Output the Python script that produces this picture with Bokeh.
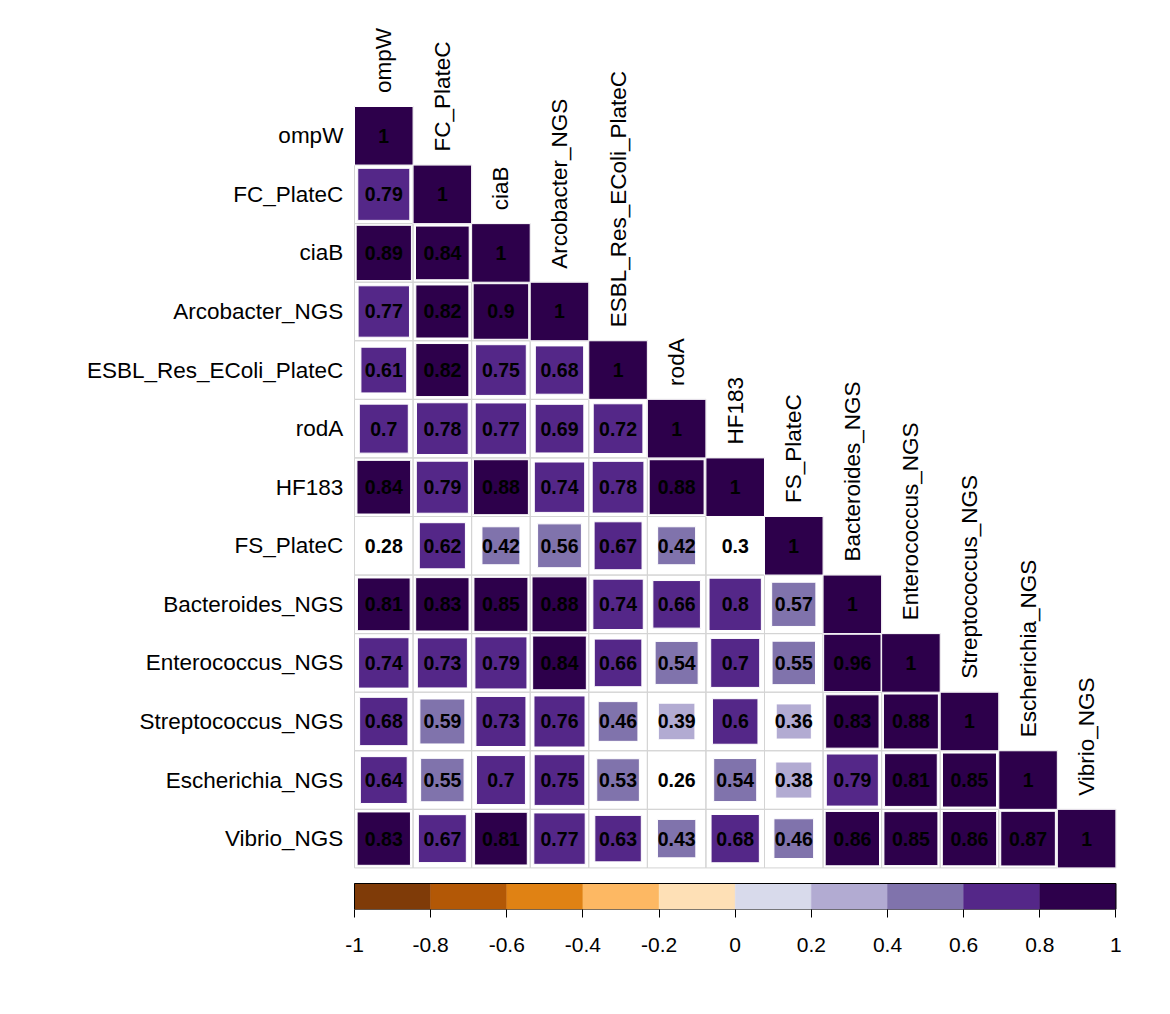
import numpy as np
from bokeh.plotting import figure
from bokeh.models import Range1d, LinearAxis, FixedTicker, CustomJSTickFormatter
from bokeh.core.properties import value
from bokeh.embed import file_html
from bokeh.resources import INLINE

# ---------------- data ----------------
variables = ["ompW", "FC_PlateC", "ciaB", "Arcobacter_NGS", "ESBL_Res_EColi_PlateC",
             "rodA", "HF183", "FS_PlateC", "Bacteroides_NGS", "Enterococcus_NGS",
             "Streptococcus_NGS", "Escherichia_NGS", "Vibrio_NGS"]

corr_lower = [
    [1.0],
    [0.79, 1.0],
    [0.89, 0.84, 1.0],
    [0.77, 0.82, 0.90, 1.0],
    [0.61, 0.82, 0.75, 0.68, 1.0],
    [0.70, 0.78, 0.77, 0.69, 0.72, 1.0],
    [0.84, 0.79, 0.88, 0.74, 0.78, 0.88, 1.0],
    [0.28, 0.62, 0.42, 0.56, 0.67, 0.42, 0.30, 1.0],
    [0.81, 0.83, 0.85, 0.88, 0.74, 0.66, 0.798, 0.57, 1.0],
    [0.74, 0.73, 0.79, 0.84, 0.66, 0.54, 0.70, 0.55, 0.96, 1.0],
    [0.68, 0.59, 0.73, 0.76, 0.46, 0.39, 0.604, 0.36, 0.83, 0.88, 1.0],
    [0.64, 0.55, 0.70, 0.75, 0.53, 0.26, 0.54, 0.38, 0.79, 0.81, 0.85, 1.0],
    [0.83, 0.67, 0.81, 0.77, 0.63, 0.43, 0.68, 0.46, 0.86, 0.85, 0.86, 0.87, 1.0],
]

# non-significant pairs (no square drawn, coefficient still printed)
insignificant = [("FS_PlateC", "ompW"), ("FS_PlateC", "HF183"), ("Escherichia_NGS", "rodA")]

bin_edges = [-1.0, -0.8, -0.6, -0.4, -0.2, 0.0, 0.2, 0.4, 0.6, 0.8, 1.0]
bin_colors = ["#7F3B08", "#B35806", "#E08214", "#FDB863", "#FEE0B6",
              "#D8DAEB", "#B2ABD2", "#8073AC", "#542788", "#2D004B"]
colorbar_ticks = [-1.0, -0.8, -0.6, -0.4, -0.2, 0.0, 0.2, 0.4, 0.6, 0.8, 1.0]

# ---------------- layout constants ----------------
W, H = 1160, 1000
CELL = 58.57          # px per cell
GRID_LEFT = 354       # px from figure left to grid left
GRID_TOP = 106        # px from figure top to grid top
CB_TOP = 883          # px from figure top to colour-bar top
CB_BOTTOM = 909       # px from figure top to colour-bar bottom (= frame bottom)
frame_h = CB_BOTTOM
FRAME_BOTTOM_BORDER = H - frame_h
n = len(variables)
FONT = "Liberation Sans"

x0 = -GRID_LEFT / CELL
x1 = (W - GRID_LEFT) / CELL
y_top = -GRID_TOP / CELL
y_bot = (frame_h - GRID_TOP) / CELL

p = figure(width=W, height=H, output_backend="svg", toolbar_location=None,
           x_range=Range1d(x0, x1), y_range=Range1d(y_bot, y_top),
           x_axis_location=None, y_axis_location=None,
           min_border_left=0, min_border_right=0, min_border_top=0,
           min_border_bottom=FRAME_BOTTOM_BORDER, outline_line_color=None)
p.xgrid.visible = False
p.ygrid.visible = False

def color_of(v):
    idx = int(np.searchsorted(bin_edges, v, side="right")) - 1
    return bin_colors[min(max(idx, 0), len(bin_colors) - 1)]

insig_set = set(insignificant)
cx, cy, sz, col, txt, gx, gy = [], [], [], [], [], [], []
for i, row in enumerate(corr_lower):
    for j, v in enumerate(row):
        gx.append(j + 0.5)
        gy.append(i + 0.5)
        txt.append(f"{round(v, 2):g}")
        if (variables[i], variables[j]) in insig_set:
            continue
        cx.append(j + 0.5)
        cy.append(i + 0.5)
        sz.append(float(np.sqrt(abs(v))))
        col.append(color_of(v))

# grid cells
p.rect(x=gx, y=gy, width=1, height=1, fill_color=None, line_color="#d4d4d4", line_width=1)
# squares
p.rect(x=cx, y=cy, width=sz, height=sz, fill_color=col, line_color="white", line_width=1)
# coefficients
p.text(x=gx, y=gy, text=txt, text_align="center", text_baseline="middle",
       text_font=value(FONT), text_font_style="bold", text_font_size="19.5px", text_color="black")

# row labels
p.text(x=[-0.19] * n, y=[i + 0.5 for i in range(n)], text=variables,
       text_align="right", text_baseline="middle", text_font=value(FONT),
       text_font_size="22.5px", text_color="black")
# column labels on diagonal
p.text(x=[j + 0.5 for j in range(n)], y=[j - 0.23 for j in range(n)], text=variables,
       angle=np.pi / 2, text_align="left", text_baseline="middle", text_font=value(FONT),
       text_font_size="22.5px", text_color="black")

# colour bar
cb_top = (CB_TOP - GRID_TOP) / CELL
cb_bottom = y_bot
def to_x(v):
    return (v + 1) / 2 * n
lefts = [to_x(e) for e in bin_edges[:-1]]
rights = [to_x(e) for e in bin_edges[1:]]
p.quad(left=lefts, right=rights, top=cb_top, bottom=cb_bottom,
       fill_color=bin_colors, line_color=bin_colors, line_width=0.5)
p.quad(left=[to_x(bin_edges[0])], right=[to_x(bin_edges[-1])], top=cb_top, bottom=cb_bottom,
       fill_color=None, line_color="black", line_width=1)

p.extra_x_ranges = {"cb": Range1d(-1 + x0 * 2 / n, -1 + x1 * 2 / n)}
ax = LinearAxis(x_range_name="cb", ticker=FixedTicker(ticks=colorbar_ticks),
                formatter=CustomJSTickFormatter(code="return String(Number(tick.toFixed(1)));"),
                axis_line_color=None, major_tick_in=0, major_tick_out=8,
                major_tick_line_color="black", minor_tick_line_color=None,
                major_label_standoff=20, major_label_text_font=FONT,
                major_label_text_font_size="21px", major_label_text_color="black")
p.add_layout(ax, "below")

open("out.html", "w").write(file_html(p, INLINE))
